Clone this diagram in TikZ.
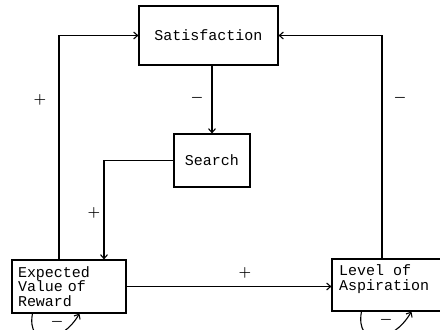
\documentclass[tikz,border=0pt]{standalone}
\usepackage{fontspec}
\setmonofont{Liberation Mono}
\usetikzlibrary{arrows.meta}

\begin{document}
\begin{tikzpicture}[
  x=1pt, y=1pt,
  box/.style={draw, line width=1.1pt, inner sep=6pt, font=\ttfamily\fontsize{15}{14.5}\selectfont},
  arrow/.style={-{Straight Barb[length=4pt,width=7pt]}, line width=1.1pt},
  sign/.style={font=\fontsize{15}{15}\selectfont\boldmath, inner sep=0pt}
]
\useasboundingbox (0,0) rectangle (440,330);

\node[box, minimum width=139pt, minimum height=59pt] (sat) at (208.5,294.5) {Satisfaction};
\node[box, minimum width=76pt, minimum height=53pt] (search) at (212,169.5) {Search};
\node[box, align=left, text width=102pt, minimum height=53pt] (expect) at (69,43.5) {Expected\\Value of\\Reward};
\node[box, minimum width=114pt] (level) at (389,45) {\parbox[c][40pt][t]{100pt}{Level of\\Aspiration}};

\draw[arrow] (search.north |- sat.south) -- (search.north);
\draw[arrow] ([xshift=-10pt]expect.north) |- (sat.west);
\draw[arrow] ([xshift=-7pt]level.north) |- (sat.east);
\draw[arrow] (search.west) -| ([xshift=35pt]expect.north);
\draw[arrow] (expect.east) -- (expect.east -| level.west);
\draw[arrow] ([xshift=21pt]expect.south west) to[out=-100, in=-120, looseness=1.9] ([xshift=68pt]expect.south west);
\draw[arrow] ([xshift=30pt]level.south west) to[out=-100, in=-120, looseness=1.9] ([xshift=80pt]level.south west);

\node[sign] (plusA) at (40,230) {$+$};
\node[sign] (minusA) at (197,232) {$-$};
\node[sign] (minusB) at (400,232) {$-$};
\node[sign] (plusB) at (94,117) {$+$};
\node[sign] (plusC) at (245,57) {$+$};
\node[sign] (minusC) at (57,8) {$-$};
\node[sign] (minusD) at (386,10) {$-$};
\end{tikzpicture}
\end{document}
